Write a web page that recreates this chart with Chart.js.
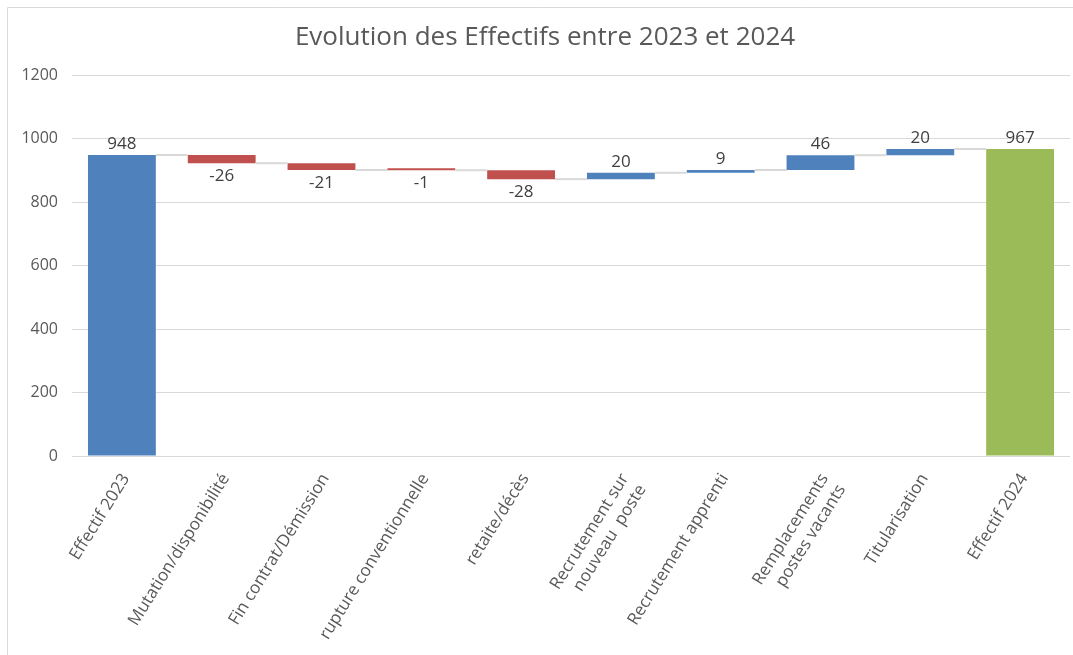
<!DOCTYPE html>
<html>
<head>
<meta charset="utf-8">
<script src="https://cdn.jsdelivr.net/npm/chart.js@4/dist/chart.umd.min.js"></script>
<style>
html,body{margin:0;padding:0;background:#fff;}
#wrap{position:relative;width:1073px;height:655px;}
</style>
</head>
<body>
<div id="wrap"><canvas id="c" width="1073" height="655"></canvas></div>
<script>
const categories = [
  "Effectif 2023",
  "Mutation/disponibilité",
  "Fin contrat/Démission",
  "rupture conventionnelle",
  "retaite/décès",
  ["Recrutement sur", "nouveau  poste"],
  "Recrutement apprenti",
  ["Remplacements", "postes vacants"],
  "Titularisation",
  "Effectif 2024"
];
const values = [948, -26, -21, -1, -28, 20, 9, 46, 20, 967];
const isTotal = [true, false, false, false, false, false, false, false, false, true];
const yTicks = [0, 200, 400, 600, 800, 1000, 1200];
const titleText = "Evolution des Effectifs entre 2023 et 2024";

const colorUp = "#4F81BD", colorDown = "#C0504D", colorTotal = "#9BBB59";

// floating ranges built from the values
const ranges = [];
const colors = [];
let run = 0;
values.forEach((v, i) => {
  if (isTotal[i]) { ranges.push([0, v]); run = v; colors.push(i === 0 ? colorUp : colorTotal); }
  else { ranges.push([run, run + v]); run += v; colors.push(v < 0 ? colorDown : colorUp); }
});

const FONT = "'Open Sans', sans-serif";

const extras = {
  id: 'extras',
  beforeDraw(chart) {
    const ctx = chart.ctx;
    ctx.save();
    ctx.strokeStyle = '#D9D9D9';
    ctx.lineWidth = 1;
    ctx.beginPath();
    ctx.moveTo(7.5, 655); ctx.lineTo(7.5, 7.5); ctx.lineTo(1073, 7.5);
    ctx.stroke();
    ctx.fillStyle = '#595959';
    ctx.font = "26px " + FONT;
    ctx.textAlign = 'center';
    ctx.textBaseline = 'middle';
    ctx.fillText(titleText, 545, 38);
    ctx.restore();
  },
  afterDatasetsDraw(chart) {
    const ctx = chart.ctx;
    const meta = chart.getDatasetMeta(0);
    const y = chart.scales.y;
    ctx.save();
    // connectors
    ctx.strokeStyle = '#D9D9D9';
    ctx.lineWidth = 2;
    for (let i = 0; i < meta.data.length - 1; i++) {
      const b = meta.data[i], n = meta.data[i + 1];
      const level = ranges[i][1];
      const py = y.getPixelForValue(level);
      ctx.beginPath();
      ctx.moveTo(b.x + b.width / 2, py);
      ctx.lineTo(n.x - n.width / 2, py);
      ctx.stroke();
    }
    // labels
    ctx.fillStyle = '#404040';
    ctx.font = "17px " + FONT;
    ctx.textAlign = 'center';
    ctx.textBaseline = 'middle';
    meta.data.forEach((b, i) => {
      const r = ranges[i];
      const v = values[i];
      if (v < 0) {
        const py = y.getPixelForValue(Math.min(r[0], r[1]));
        ctx.fillText(String(v), b.x, py + 13);
      } else {
        const py = y.getPixelForValue(Math.max(r[0], r[1]));
        ctx.fillText(String(v), b.x, py - 11);
      }
    });
    ctx.restore();
  }
};

new Chart(document.getElementById('c'), {
  type: 'bar',
  data: {
    labels: categories,
    datasets: [{
      data: ranges,
      backgroundColor: colors,
      borderWidth: 0,
      minBarLength: 2,
      categoryPercentage: 1,
      barPercentage: 0.68
    }]
  },
  options: {
    responsive: false,
    animation: false,
    layout: { padding: { top: 75, right: 3, left: 0, bottom: 0 } },
    plugins: { legend: { display: false }, tooltip: { enabled: false }, title: { display: false } },
    scales: {
      x: {
        grid: { display: false },
        border: { display: false },
        ticks: {
          color: '#595959',
          font: { family: FONT, size: 17 },
          minRotation: 58, maxRotation: 58,
          padding: 6,
          labelOffset: 4,
          autoSkip: false
        },
        afterFit(s) { s.height = 199; }
      },
      y: {
        min: 0, max: 1200,
        afterBuildTicks(s) { s.ticks = yTicks.map(v => ({ value: v })); },
        grid: { color: '#D9D9D9', lineWidth: 1, drawTicks: false },
        border: { display: false },
        ticks: {
          color: '#595959',
          font: { family: FONT, size: 16 },
          padding: 14,
          callback: (v) => String(v)
        },
        afterFit(s) { s.width = 72; }
      }
    }
  },
  plugins: [extras]
});
</script>
</body>
</html>
